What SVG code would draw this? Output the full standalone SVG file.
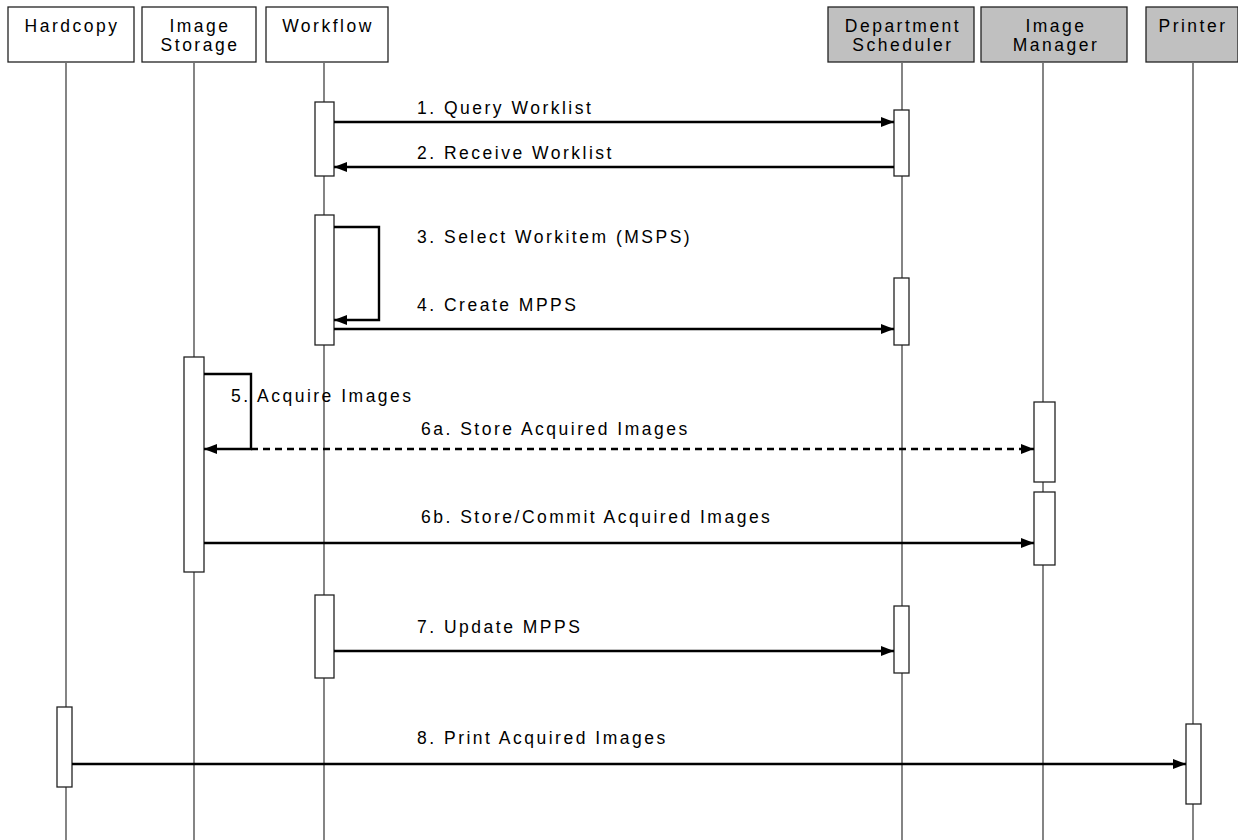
<svg xmlns="http://www.w3.org/2000/svg" width="1238" height="840" viewBox="0 0 1238 840">
  <style>
    .hdr { stroke: #222; stroke-width: 1.3; }
    .plain { fill: #fff; }
    .grey { fill: #c0c0c0; }
    .life { stroke: #333; stroke-width: 1.2; fill: none; }
    .act { fill: #fff; stroke: #222; stroke-width: 1.3; }
    .msg { stroke: #000; stroke-width: 2.4; fill: none; }
    .dash { stroke-dasharray: 7 5; }
    text { font-family: "Liberation Sans", Arial, sans-serif; font-size: 17.5px; letter-spacing: 2.5px; fill: #000; }
    .c { text-anchor: middle; }
  </style>
  <defs>
    <marker id="arrow" viewBox="0 0 13 10" refX="13" refY="5" markerWidth="13" markerHeight="10" markerUnits="userSpaceOnUse" orient="auto">
      <path d="M0,0 L13,5 L0,10 Z" fill="#000"/>
    </marker>
  </defs>
  <rect width="1238" height="840" fill="#fff"/>

  <!-- lifelines -->
  <g id="lifelines">
    <line class="life" x1="66" y1="63" x2="66" y2="840"/>
    <line class="life" x1="194" y1="63" x2="194" y2="840"/>
    <line class="life" x1="324" y1="63" x2="324" y2="840"/>
    <line class="life" x1="902" y1="63" x2="902" y2="840"/>
    <line class="life" x1="1043" y1="63" x2="1043" y2="840"/>
    <line class="life" x1="1193" y1="63" x2="1193" y2="840"/>
  </g>

  <!-- participant headers -->
  <g id="hardcopy">
    <rect class="hdr plain" x="8" y="7" width="126" height="55"/>
    <text class="c" x="72" y="32">Hardcopy</text>
  </g>
  <g id="image-storage">
    <rect class="hdr plain" x="142" y="7" width="114" height="55"/>
    <text class="c" x="200" y="32">Image</text>
    <text class="c" x="200" y="51">Storage</text>
  </g>
  <g id="workflow">
    <rect class="hdr plain" x="266" y="7" width="122" height="55"/>
    <text class="c" x="328" y="32">Workflow</text>
  </g>
  <g id="department-scheduler">
    <rect class="hdr grey" x="828" y="7" width="146" height="55"/>
    <text class="c" x="903" y="32">Department</text>
    <text class="c" x="903" y="51">Scheduler</text>
  </g>
  <g id="image-manager">
    <rect class="hdr grey" x="981" y="7" width="146" height="55"/>
    <text class="c" x="1056" y="32">Image</text>
    <text class="c" x="1056" y="51">Manager</text>
  </g>
  <g id="printer">
    <rect class="hdr grey" x="1146" y="7" width="92" height="55"/>
    <text class="c" x="1193" y="32">Printer</text>
  </g>

  <!-- activation bars -->
  <g id="activations">
    <rect class="act" x="315" y="102" width="19" height="74"/>
    <rect class="act" x="894" y="110" width="15" height="66"/>
    <rect class="act" x="315" y="215" width="19" height="130"/>
    <rect class="act" x="894" y="278" width="15" height="67"/>
    <rect class="act" x="184" y="357" width="20" height="215"/>
    <rect class="act" x="1034" y="402" width="21" height="80"/>
    <rect class="act" x="1034" y="492" width="21" height="73"/>
    <rect class="act" x="315" y="595" width="19" height="83"/>
    <rect class="act" x="894" y="606" width="15" height="67"/>
    <rect class="act" x="57" y="707" width="15" height="80"/>
    <rect class="act" x="1186" y="724" width="15" height="80"/>
  </g>

  <!-- messages -->
  <g id="connectors">
    <line class="msg" x1="334" y1="122" x2="894" y2="122" marker-end="url(#arrow)"/>
    <line class="msg" x1="894" y1="167" x2="334" y2="167" marker-end="url(#arrow)"/>
    <polyline class="msg" points="334,227 379,227 379,320 334,320" marker-end="url(#arrow)"/>
    <line class="msg" x1="334" y1="329" x2="894" y2="329" marker-end="url(#arrow)"/>
    <polyline class="msg" points="204,374 251,374 251,449 204,449" marker-end="url(#arrow)"/>
    <line class="msg dash" x1="251" y1="449" x2="1034" y2="449" marker-end="url(#arrow)"/>
    <line class="msg" x1="204" y1="543" x2="1034" y2="543" marker-end="url(#arrow)"/>
    <line class="msg" x1="334" y1="651" x2="894" y2="651" marker-end="url(#arrow)"/>
    <line class="msg" x1="72" y1="764" x2="1186" y2="764" marker-end="url(#arrow)"/>
  </g>

  <!-- message labels -->
  <g id="labels">
    <text x="417" y="114">1. Query Worklist</text>
    <text x="417" y="159">2. Receive Worklist</text>
    <text x="417" y="243">3. Select Workitem (MSPS)</text>
    <text x="417" y="311">4. Create MPPS</text>
    <text x="231" y="402">5. Acquire Images</text>
    <text x="421" y="435">6a. Store Acquired Images</text>
    <text x="421" y="523">6b. Store/Commit Acquired Images</text>
    <text x="417" y="633">7. Update MPPS</text>
    <text x="417" y="744">8. Print Acquired Images</text>
  </g>
</svg>
